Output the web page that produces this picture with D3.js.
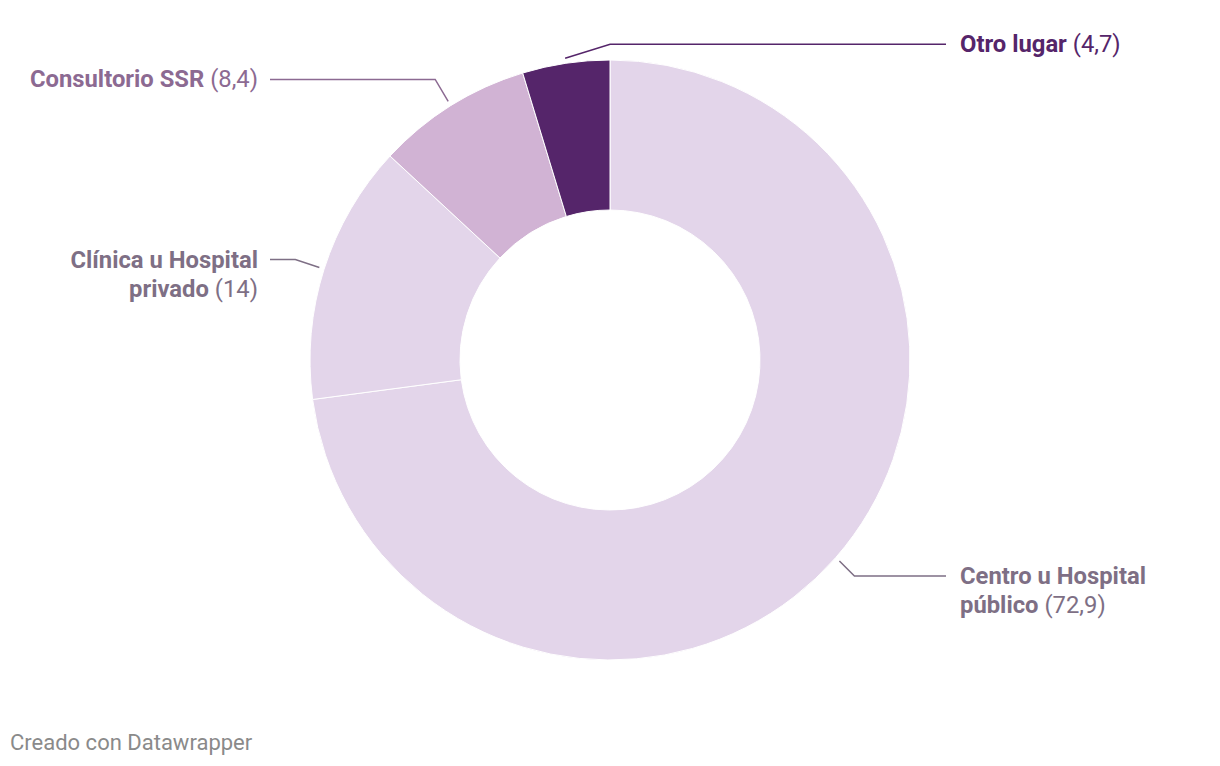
<!DOCTYPE html>
<html>
<head>
<meta charset="utf-8">
<script src="https://cdn.jsdelivr.net/npm/d3@7"></script>
<style>
  body { margin:0; background:#fff; font-family: Roboto, sans-serif; }
  svg text { font-family: Roboto, sans-serif; }
</style>
</head>
<body>
<svg id="chart"></svg>
<script>
// data
var categories = ['Centro u Hospital público', 'Clínica u Hospital privado', 'Consultorio SSR', 'Otro lugar']
var values = [72.9, 14, 8.4, 4.7]
var valueLabels = ['72,9', '14', '8,4', '4,7']
var labelLines = [['Centro u Hospital', 'público'], ['Clínica u Hospital', 'privado'], ['Consultorio SSR'], ['Otro lugar']]

var colors = ['#e3d5ea', '#e3d5ea', '#d1b3d4', '#55256a']
var textColors = ['#7e6f85', '#7e6f85', '#8c6a92', '#55256a']

var width = 1220, height = 766
var cx = 610, cy = 360
var outerR = 300, innerR = 150

// label layout: side and elbow offsets from the slice edge point
var labelSide = ['right', 'left', 'left', 'right']
var elbowOff = [[15, 15], [-24, -8], [-13, -22], [45, -14]]

var svg = d3.select('#chart').attr('width', width).attr('height', height)

var data = categories.map(function(c, i){
  return {name:c, value:values[i], vlabel:valueLabels[i], lines:labelLines[i], i:i}
})

var pie = d3.pie().sort(null).value(function(d){return d.value})
var arc = d3.arc().innerRadius(innerR).outerRadius(outerR)

var g = svg.append('g').attr('transform', 'translate(' + cx + ',' + cy + ')')

var arcs = pie(data)

g.selectAll('.slice').data(arcs)
  .enter().append('path')
  .classed('slice', true)
  .attr('d', arc)
  .attr('fill', function(d){return colors[d.data.i]})
  .attr('stroke', '#fff')
  .attr('stroke-width', 1)

// labels
var lineR = 305
var lineEndRight = 946 - cx, lineEndLeft = 270 - cx
var textRight = 960 - cx, textLeft = 258 - cx

arcs.forEach(function(a){
  var i = a.data.i
  var mid = (a.startAngle + a.endAngle) / 2
  var sx = Math.sin(mid) * lineR, sy = -Math.cos(mid) * lineR
  var ex = sx + elbowOff[i][0], ey = sy + elbowOff[i][1]
  var right = labelSide[i] == 'right'
  var hx = right ? lineEndRight : lineEndLeft

  g.append('polyline')
    .attr('points', [[sx, sy], [ex, ey], [hx, ey]].map(function(p){return p.join(',')}).join(' '))
    .attr('fill', 'none')
    .attr('stroke', textColors[i])
    .attr('stroke-width', 1.5)

  var t = g.append('text')
    .attr('text-anchor', right ? 'start' : 'end')
    .attr('fill', textColors[i])
    .style('font-size', '23.8px')

  var lines = a.data.lines
  lines.forEach(function(l, k){
    var ts = t.append('tspan')
      .attr('x', right ? textRight : textLeft)
      .attr('y', ey + 8 + k * 29)
    ts.append('tspan').attr('font-weight', 700).text(l)
    if (k == lines.length - 1) {
      ts.append('tspan').attr('font-weight', 400).text(' (' + a.data.vlabel + ')')
    }
  })
})

svg.append('text')
  .attr('x', 10)
  .attr('y', 750)
  .attr('fill', '#8a8a8a')
  .style('font-size', '22px')
  .text('Creado con Datawrapper')
</script>
</body>
</html>
